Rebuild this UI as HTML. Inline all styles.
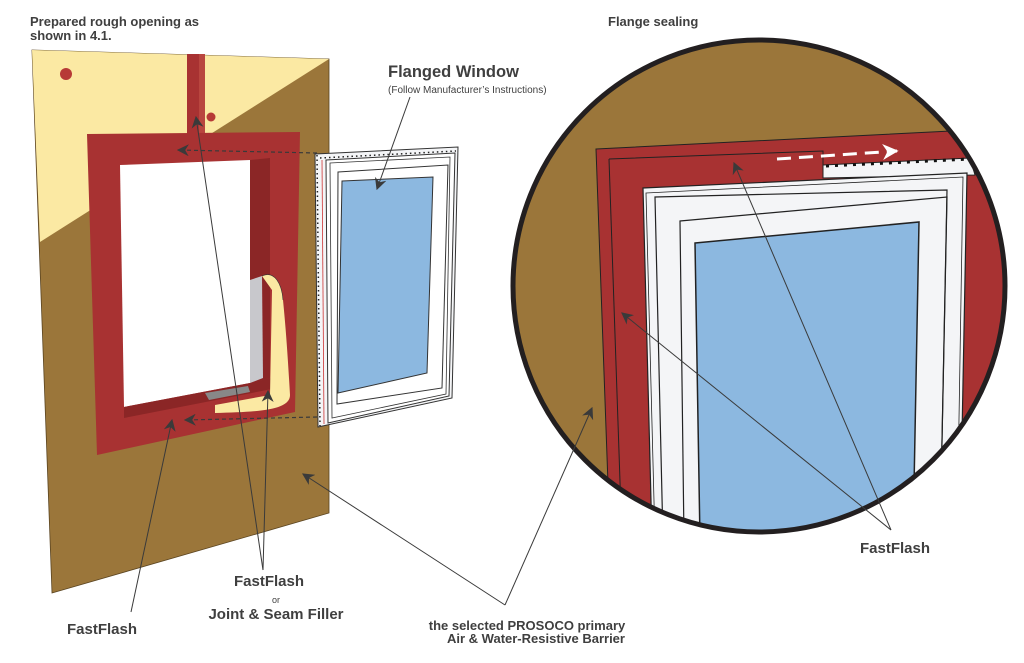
<!DOCTYPE html>
<html><head><meta charset="utf-8"><style>
html,body{margin:0;padding:0;background:#fff;}
svg{display:block;}
text{font-family:"Liberation Sans",sans-serif;fill:#3f3f3f;}
.b{font-weight:bold;}
</style></head><body>
<svg width="1024" height="663" viewBox="0 0 1024 663" xmlns="http://www.w3.org/2000/svg">
<defs>
<marker id="ah" viewBox="0 0 10 10" refX="9" refY="5" markerWidth="12" markerHeight="12" orient="auto-start-reverse" markerUnits="userSpaceOnUse">
<path d="M0,0 L10,5 L0,10 L3,5 z" fill="#3a3a3a"/></marker>
<marker id="aw" viewBox="0 0 10 10" refX="9" refY="5" markerWidth="16" markerHeight="16" orient="auto" markerUnits="userSpaceOnUse">
<path d="M0,0 L10,5 L0,10 L3,5 z" fill="#fff"/></marker>
<clipPath id="cc"><circle cx="759" cy="286" r="246"/></clipPath>
</defs>

<polygon points="32,50 329,59 329,513 52,593" fill="#9b763a" stroke="#5a4420" stroke-width="0.8"/>
<polygon points="32,50 329,59 40,242" fill="#fbe9a3"/>
<rect x="187" y="54" width="18" height="82" fill="#a83232"/>
<rect x="199" y="54" width="6" height="82" fill="#b9463f"/>
<circle cx="66" cy="74" r="6" fill="#b73a36"/>
<circle cx="211" cy="117" r="4.5" fill="#b73a36"/>
<polygon points="87,134 300,132 295,412 97,455" fill="#a83232"/>
<polygon points="120,165 250,160 250,383 124,407" fill="#fff"/>
<polygon points="250,160 270,158 270,378 250,383" fill="#8b2626"/>
<polygon points="124,407 250,383 270,378 277,388 124,418" fill="#8b2626"/>
<polygon points="205,393 248,386 250,392 209,400" fill="#888"/>
<polygon points="250,280 262,276 263,378 250,383" fill="#c8c8cc"/>
<path d="M262,276 C275,270 282,285 283,300 C286,330 288,360 290,395 C290,410 260,412 215,413 L215,405 L270,395 L272,290 Z" fill="#fbe9a3"/>
<path d="M262,276 C275,270 282,285 283,300" fill="none" stroke="#333" stroke-width="0.6"/>

<polygon points="315,154 458,147 452,398 318,427" fill="#f4f5f7" stroke="#333" stroke-width="1"/>
<line x1="317" y1="155" x2="320" y2="426" stroke="#222" stroke-width="1.5" stroke-dasharray="1.5,3"/>
<line x1="320" y1="158" x2="456" y2="151" stroke="#222" stroke-width="1.5" stroke-dasharray="1.5,3"/>
<line x1="322" y1="160" x2="324" y2="424" stroke="#c33" stroke-width="0.8"/>
<polygon points="326,160 455,153 449,396 328,423" fill="#fff" stroke="#333" stroke-width="1"/>
<polygon points="330,163 450,157 446,394 332,418" fill="none" stroke="#333" stroke-width="0.8"/>
<polygon points="338,172 448,165 442,388 337,404" fill="none" stroke="#333" stroke-width="1"/>
<polygon points="342,181 433,177 427,373 338,393" fill="#8cb8e0" stroke="#333" stroke-width="1"/>

<g clip-path="url(#cc)">
<rect x="500" y="30" width="520" height="520" fill="#9b763a"/>
<polygon points="596,149 1010,128 1010,540 610,540" fill="#a83232" stroke="#222" stroke-width="1"/>
<polyline points="609,159 823,151 823,175" fill="none" stroke="#222" stroke-width="1"/>
<line x1="609" y1="159" x2="622" y2="540" stroke="#222" stroke-width="1"/>
<polygon points="823,165 970,158 975,175 823,178" fill="#f4f5f7" stroke="#222" stroke-width="1"/>
<line x1="826" y1="166" x2="970" y2="159" stroke="#111" stroke-width="3" stroke-dasharray="3,6"/>
<polygon points="643,188 967,173 960,540 652,540" fill="#f4f5f7" stroke="#222" stroke-width="1.2"/>
<polygon points="646,193 963,177 957,540 655,540" fill="none" stroke="#222" stroke-width="0.8"/>
<polygon points="655,197 947,190 940,540 663,540" fill="none" stroke="#222" stroke-width="1.2"/>
<polygon points="680,221 947,197 940,540 684,540" fill="none" stroke="#222" stroke-width="1.2"/>
<polygon points="695,243 919,222 913,540 700,540" fill="#8cb8e0" stroke="#222" stroke-width="1.5"/>
<line x1="777" y1="159" x2="897" y2="151" stroke="#fff" stroke-width="3" stroke-dasharray="14,8" marker-end="url(#aw)"/>
</g>
<circle cx="759" cy="286" r="246" fill="none" stroke="#231f20" stroke-width="5"/>

<line x1="317" y1="153" x2="178" y2="150" stroke="#3a3a3a" stroke-width="1.2" stroke-dasharray="4,3" marker-end="url(#ah)"/>
<line x1="317" y1="417" x2="185" y2="420" stroke="#3a3a3a" stroke-width="1.2" stroke-dasharray="4,3" marker-end="url(#ah)"/>

<g stroke="#3a3a3a" stroke-width="1" fill="none">
<line x1="410" y1="97" x2="377" y2="189" marker-end="url(#ah)"/>
<line x1="131" y1="612" x2="172" y2="420" marker-end="url(#ah)"/>
<line x1="263" y1="570" x2="196" y2="117" marker-end="url(#ah)"/>
<line x1="263" y1="570" x2="268" y2="391" marker-end="url(#ah)"/>
<line x1="505" y1="605" x2="303" y2="474" marker-end="url(#ah)"/>
<line x1="505" y1="605" x2="592" y2="408" marker-end="url(#ah)"/>
<line x1="891" y1="530" x2="734" y2="163" marker-end="url(#ah)"/>
<line x1="891" y1="530" x2="622" y2="313" marker-end="url(#ah)"/>
</g>

<text x="30" y="26" class="b" font-size="13">Prepared rough opening as</text>
<text x="30" y="40" class="b" font-size="13">shown in 4.1.</text>
<text x="388" y="77" class="b" font-size="16.5">Flanged Window</text>
<text x="388" y="93" font-size="10">(Follow Manufacturer’s Instructions)</text>
<text x="608" y="26" class="b" font-size="13">Flange sealing</text>
<text x="234" y="586" class="b" font-size="15">FastFlash</text>
<text x="276" y="603" font-size="9" text-anchor="middle">or</text>
<text x="276" y="619" class="b" font-size="15" text-anchor="middle">Joint &amp; Seam Filler</text>
<text x="67" y="634" class="b" font-size="15">FastFlash</text>
<text x="527" y="630" class="b" font-size="13" text-anchor="middle">the selected PROSOCO primary</text>
<text x="536" y="643" class="b" font-size="13" text-anchor="middle">Air &amp; Water-Resistive Barrier</text>
<text x="895" y="553" class="b" font-size="15" text-anchor="middle">FastFlash</text>
</svg>
</body></html>
